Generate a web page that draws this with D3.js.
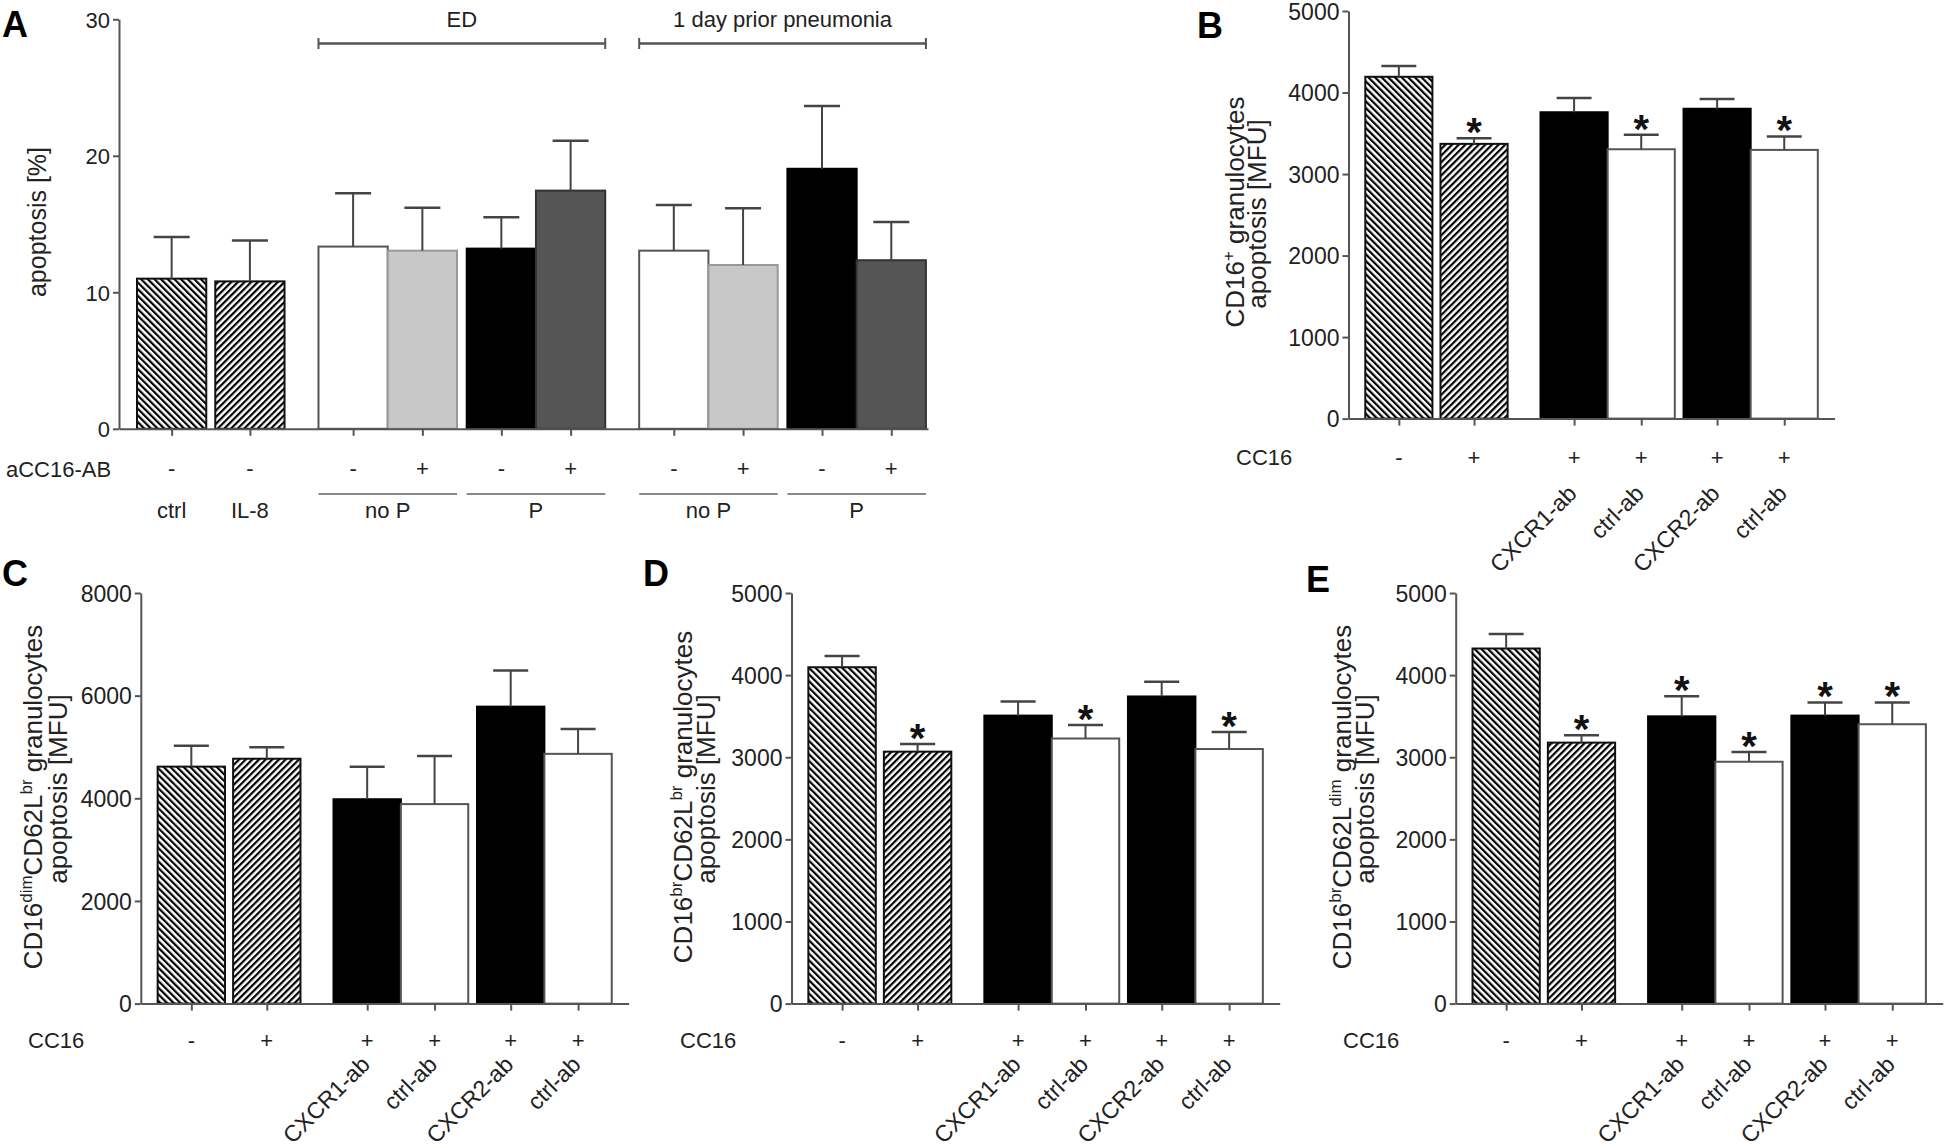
<!DOCTYPE html>
<html><head><meta charset="utf-8">
<script src="https://cdn.jsdelivr.net/npm/d3@7"></script>
<style>
body{margin:0;background:#fff}
svg{display:block}
text{font-family:"Liberation Sans",Arial,sans-serif;fill:#222}
</style>
</head><body>
<script>
// ---------------- DATA ----------------
// Panel A
const catsA   = ["ctrl","IL-8","ED noP -","ED noP +","ED P -","ED P +","1d noP -","1d noP +","1d P -","1d P +"];
const signsA  = ["-","-","-","+","-","+","-","+","-","+"];
const valsA   = [11.0, 10.8, 13.35, 13.05, 13.2, 17.45, 13.05, 12.0, 19.05, 12.35];
const semA    = [3.05, 3.0, 3.9, 3.15, 2.3, 3.65, 3.35, 4.15, 4.6, 2.8];
const stylesA = ["hb","hf","w","lg","k","dg","w","lg","k","dg"];
const ticksA  = [0,10,20,30];
const subGroupsA = [{label:"ctrl",from:0,to:0,line:false},{label:"IL-8",from:1,to:1,line:false},
  {label:"no P",from:2,to:3,line:true},{label:"P",from:4,to:5,line:true},
  {label:"no P",from:6,to:7,line:true},{label:"P",from:8,to:9,line:true}];
const topGroupsA = [{label:"ED",from:2,to:5},{label:"1 day prior pneumonia",from:6,to:9}];

// Panels B-E share categories
const catsBE   = ["CC16 -","CC16 +","CXCR1-ab","ctrl-ab","CXCR2-ab","ctrl-ab 2"];
const signsBE  = ["-","+","+","+","+","+"];
const abLabels = ["","","CXCR1-ab","ctrl-ab","CXCR2-ab","ctrl-ab"];
const stylesBE = ["hb","hf","k","w","k","w"];

const valsB  = [4193, 3370, 3758, 3304, 3801, 3296];
const semB   = [131, 69, 174, 179, 118, 165];
const starsB = [0,1,0,1,0,1];
const ticksB = [0,1000,2000,3000,4000,5000];

const valsC  = [4617, 4771, 3982, 3887, 5786, 4866];
const semC   = [409, 226, 635, 935, 702, 482];
const starsC = [0,0,0,0,0,0];
const ticksC = [0,2000,4000,6000,8000];

const valsD  = [4096, 3068, 3507, 3228, 3740, 3100];
const semD   = [137, 92, 173, 165, 178, 206];
const starsD = [0,1,0,1,0,1];
const ticksD = [0,1000,2000,3000,4000,5000];

const valsE  = [4324, 3178, 3498, 2945, 3507, 3402];
const semE   = [178, 91, 246, 119, 160, 265];
const starsE = [0,1,1,1,1,1];
const ticksE = [0,1000,2000,3000,4000,5000];

// ---------------- DRAWING ----------------
const W = 1946, H = 1148;
const svg = d3.select("body").append("svg").attr("width", W).attr("height", H);
svg.append("rect").attr("width", W).attr("height", H).attr("fill", "#fff");

const defs = svg.append("defs");
function hatch(id, angle){
  const p = defs.append("pattern").attr("id", id).attr("patternUnits","userSpaceOnUse")
    .attr("width", 4.7).attr("height", 10).attr("patternTransform", `rotate(${angle})`);
  p.append("rect").attr("width", 4.7).attr("height", 10).attr("fill", "#fff");
  p.append("rect").attr("x", 0).attr("width", 2.2).attr("height", 10).attr("fill", "#000");
}
hatch("hb", -45);
hatch("hf", 45);

const STY = {
  hb: {fill:"url(#hb)", stroke:"#111"},
  hf: {fill:"url(#hf)", stroke:"#111"},
  w:  {fill:"#fff", stroke:"#555"},
  lg: {fill:"#c8c8c8", stroke:"#999"},
  k:  {fill:"#000", stroke:"#000"},
  dg: {fill:"#555", stroke:"#333"}
};

function layoutUnits(n, gaps, padL, padR){
  let c = padL; const lefts = [];
  for (let i = 0; i < n; i++){ lefts.push(c); c += 1 + gaps[i]; }
  return {lefts, total: c + padR};
}

function drawPanel(o){
  const g = svg.append("g");
  const y = d3.scaleLinear().domain([0, o.max]).range([o.y0, o.y1]);
  const L = layoutUnits(o.values.length, o.gaps, o.padL, o.padR);
  const x = d3.scaleLinear().domain([0, L.total]).range([o.x0, o.x1]);
  const bw = x(1) - x(0);
  const cx = i => x(L.lefts[i] + 0.5);
  const data = o.values.map((v,i)=>({v, s:o.sems[i], st:o.styles[i], i}));

  g.selectAll("rect.bar").data(data).join("rect").attr("class","bar")
    .attr("x", d => x(L.lefts[d.i])).attr("y", d => y(d.v))
    .attr("width", bw).attr("height", d => y(0) - y(d.v))
    .attr("fill", d => STY[d.st].fill).attr("stroke", d => STY[d.st].stroke).attr("stroke-width", 2);

  const capW = bw * 0.52;
  g.selectAll("line.err").data(data).join("line").attr("class","err")
    .attr("x1", d => cx(d.i)).attr("x2", d => cx(d.i))
    .attr("y1", d => y(d.v)).attr("y2", d => y(d.v + d.s))
    .attr("stroke", "#444").attr("stroke-width", 2);
  g.selectAll("line.cap").data(data).join("line").attr("class","cap")
    .attr("x1", d => cx(d.i) - capW/2).attr("x2", d => cx(d.i) + capW/2)
    .attr("y1", d => y(d.v + d.s)).attr("y2", d => y(d.v + d.s))
    .attr("stroke", "#444").attr("stroke-width", 2.5);

  if (o.stars){
    g.selectAll("text.star").data(data.filter(d => o.stars[d.i])).join("text").attr("class","star")
      .attr("x", d => cx(d.i)).attr("y", d => y(d.v + d.s) + 8)
      .attr("text-anchor","middle").style("font-size","40px").style("font-weight","bold").style("fill","#111")
      .text("*");
  }

  const ya = g.append("g").attr("transform", `translate(${o.x0},0)`)
    .call(d3.axisLeft(y).tickValues(o.ticks).tickFormat(d3.format("d")).tickSize(6).tickPadding(3).tickSizeOuter(0));
  const centers = o.values.map((v,i) => L.lefts[i] + 0.5);
  const xa = g.append("g").attr("transform", `translate(0,${o.y0})`)
    .call(d3.axisBottom(x).tickValues(centers).tickFormat("").tickSize(7).tickSizeOuter(0));
  [ya, xa].forEach(a => {
    a.attr("font-family", null).attr("font-size", null);
    a.select(".domain").attr("stroke","#555").attr("stroke-width",2);
    a.selectAll(".tick line").attr("stroke","#555").attr("stroke-width",2);
    a.selectAll(".tick text").style("font-size", o.tickFont + "px").style("fill","#222").attr("dy","0.36em");
  });

  // panel letter
  g.append("text").attr("x", o.letterX).attr("y", o.letterY).text(o.letter)
    .style("font-size","36px").style("font-weight","bold").style("fill","#000");

  // y label
  o.ylabel.forEach(line => {
    const t = g.append("text").attr("transform", `translate(${line.x},${line.cy}) rotate(-90)`)
      .attr("text-anchor","middle").style("font-size", o.ylabFont + "px");
    let shift = 0;
    line.parts.forEach(p => {
      if (p.sup){
        t.append("tspan").attr("dy", -10 - shift).style("font-size","17px").text(p.t);
        shift = -10;
      } else {
        t.append("tspan").attr("dy", -shift).text(p.t);
        shift = 0;
      }
    });
  });

  return {x, y, L, cx, bw, g};
}

// ---- Panel A ----
const A = drawPanel({
  values: valsA, sems: semA, styles: stylesA, ticks: ticksA, max: 30,
  x0: 119, x1: 928, y0: 428.8, y1: 19.3,
  gaps: [0.13, 0.49, 0, 0.14, 0, 0.49, 0, 0.14, 0, 0], padL: 0.26, padR: 0.03,
  tickFont: 22, ylabFont: 25,
  letter: "A", letterX: 2, letterY: 37,
  ylabel: [{x: 46, cy: 222, parts:[{t:"apoptosis [%]"}]}]
});
A.g.append("text").attr("x", 6).attr("y", 477).text("aCC16-AB").style("font-size","22px");
A.g.selectAll("text.sign").data(signsA).join("text").attr("class","sign")
  .attr("x", (d,i) => A.cx(i)).attr("y", 476).attr("text-anchor","middle")
  .style("font-size","22px").text(d => d);
subGroupsA.forEach(s => {
  const xl = A.x(A.L.lefts[s.from]), xr = A.x(A.L.lefts[s.to] + 1);
  if (s.line) A.g.append("line").attr("x1", xl).attr("x2", xr).attr("y1", 494).attr("y2", 494)
    .attr("stroke","#888").attr("stroke-width",2);
  A.g.append("text").attr("x", (xl+xr)/2).attr("y", 518).attr("text-anchor","middle")
    .style("font-size","22px").text(s.label);
});
topGroupsA.forEach(s => {
  const xl = A.x(A.L.lefts[s.from]), xr = A.x(A.L.lefts[s.to] + 1);
  A.g.append("line").attr("x1", xl).attr("x2", xr).attr("y1", 43.5).attr("y2", 43.5)
    .attr("stroke","#555").attr("stroke-width",2.5);
  [xl, xr].forEach(xx => A.g.append("line").attr("x1", xx).attr("x2", xx).attr("y1", 38).attr("y2", 49)
    .attr("stroke","#555").attr("stroke-width",2));
  A.g.append("text").attr("x", (xl+xr)/2).attr("y", 27).attr("text-anchor","middle")
    .style("font-size","22px").text(s.label);
});

// ---- Panels B-E ----
function lower(p, o){
  p.g.append("text").attr("x", o.cc16X).attr("y", o.signY).text("CC16").style("font-size","22px");
  p.g.selectAll("text.sign").data(signsBE).join("text").attr("class","sign")
    .attr("x", (d,i) => p.cx(i)).attr("y", o.signY).attr("text-anchor","middle")
    .style("font-size","22px").text(d => d);
  p.g.selectAll("text.ab").data(abLabels).join("text").attr("class","ab")
    .attr("transform", (d,i) => `translate(${p.cx(i)+4},${o.signY + o.labOff}) rotate(-45)`)
    .attr("text-anchor","end").style("font-size","23px").text(d => d);
}
const gapsBE = [0.12, 0.49, 0, 0.13, 0, 0];

const B = drawPanel({
  values: valsB, sems: semB, styles: stylesBE, ticks: ticksB, max: 5000, stars: starsB,
  x0: 1348.5, x1: 1834.6, y0: 418.6, y1: 11, gaps: gapsBE, padL: 0.25, padR: 0.25,
  tickFont: 23, ylabFont: 26, letter: "B", letterX: 1197, letterY: 38,
  ylabel: [{x: 1244, cy: 212, parts:[{t:"CD16"},{t:"+",sup:true},{t:" granulocytes"}]},
           {x: 1266, cy: 214, parts:[{t:"apoptosis [MFU]"}]}]
});
lower(B, {cc16X: 1236, signY: 465, labOff: 30});

const C = drawPanel({
  values: valsC, sems: semC, styles: stylesBE, ticks: ticksC, max: 8000, stars: starsC,
  x0: 140.8, x1: 628.6, y0: 1003.6, y1: 593, gaps: gapsBE, padL: 0.25, padR: 0.25,
  tickFont: 23, ylabFont: 26, letter: "C", letterX: 2, letterY: 586,
  ylabel: [{x: 42, cy: 797, parts:[{t:"CD16"},{t:"dim",sup:true},{t:"CD62L"},{t:"br",sup:true},{t:" granulocytes"}]},
           {x: 67, cy: 789, parts:[{t:"apoptosis [MFU]"}]}]
});
lower(C, {cc16X: 28, signY: 1048, labOff: 18});

const D = drawPanel({
  values: valsD, sems: semD, styles: stylesBE, ticks: ticksD, max: 5000, stars: starsD,
  x0: 791.5, x1: 1279.7, y0: 1003.6, y1: 593, gaps: gapsBE, padL: 0.25, padR: 0.25,
  tickFont: 23, ylabFont: 26, letter: "D", letterX: 643, letterY: 586,
  ylabel: [{x: 692, cy: 797, parts:[{t:"CD16"},{t:"br",sup:true},{t:"CD62L"},{t:"br",sup:true},{t:" granulocytes"}]},
           {x: 715, cy: 789, parts:[{t:"apoptosis [MFU]"}]}]
});
lower(D, {cc16X: 680, signY: 1048, labOff: 18});

const E = drawPanel({
  values: valsE, sems: semE, styles: stylesBE, ticks: ticksE, max: 5000, stars: starsE,
  x0: 1455.7, x1: 1942.7, y0: 1003.6, y1: 593, gaps: gapsBE, padL: 0.25, padR: 0.25,
  tickFont: 23, ylabFont: 26, letter: "E", letterX: 1306, letterY: 592,
  ylabel: [{x: 1351, cy: 797, parts:[{t:"CD16"},{t:"br",sup:true},{t:"CD62L"},{t:"dim",sup:true},{t:" granulocytes"}]},
           {x: 1374, cy: 789, parts:[{t:"apoptosis [MFU]"}]}]
});
lower(E, {cc16X: 1343, signY: 1048, labOff: 18});
</script>
</body></html>
